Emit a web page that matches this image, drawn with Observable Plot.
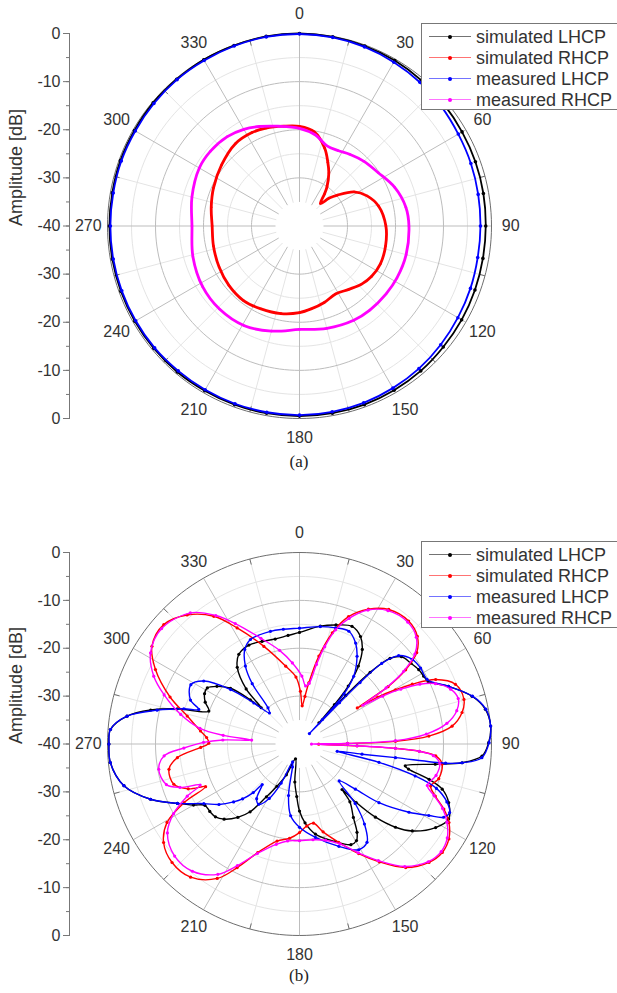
<!DOCTYPE html>
<html>
<head>
<meta charset="utf-8">
<script src="https://cdn.jsdelivr.net/npm/d3@7"></script>
<script src="https://cdn.jsdelivr.net/npm/@observablehq/plot@0.6"></script>
<style>
  html, body { margin: 0; padding: 0; background: #fff; }
  #wrap { position: relative; width: 617px; height: 993px; overflow: hidden; font-family: "Liberation Sans", Arial, sans-serif; }
  .panel { position: absolute; left: 0; }
  .cap { position: absolute; left: 0; width: 598px; text-align: center; font-family: "Liberation Serif", "DejaVu Serif", serif; font-size: 17px; color: #222; }
  .legend { position: absolute; left: 421px; width: 210px; height: 85px; border: 1px solid #777; background: #fff; }
  .legend .row { position: absolute; left: 0; height: 22px; width: 100%; }
  .legend .ln { position: absolute; left: 7px; width: 42px; top: 10px; height: 0; border-top: 1.5px solid; opacity: 0.55; }
  .legend .pt { position: absolute; left: 26px; top: 9px; width: 4px; height: 4px; border-radius: 2px; }
  .legend .tx { position: absolute; left: 54px; top: 0; font-size: 18px; line-height: 22px; color: #333; white-space: nowrap; }
</style>
</head>
<body>
<div id="wrap">
  <div id="pa" class="panel" style="top:0px"></div>
  <div class="cap" style="top:452px"></div>
  <div id="pb" class="panel" style="top:476px"></div>
  <div class="cap" style="top:966px"></div>
  <div id="la" class="legend" style="top:23px"></div>
  <div id="lb" class="legend" style="top:541px"></div>
</div>
<script>
// ---------- labels / categories ----------
const seriesNames = ["simulated LHCP", "simulated RHCP", "measured LHCP", "measured RHCP"];
const seriesColors = ["#000000", "#ff0000", "#0000ff", "#ff00ff"];
const angleTicks = [0, 30, 60, 90, 120, 150, 180, 210, 240, 270, 300, 330];
const minorAngles = [15, 45, 75, 105, 135, 165, 195, 225, 255, 285, 315, 345];
const radialTicks = [-40, -30, -20, -10, 0, 10, 20, 30, 40];
const radialMinorTicks = [-40, -35, -30, -25, -20, -15, -10, -5, 0, 5, 10, 15, 20, 25, 30, 35, 40];
const majorRings = [-30, -20, -10];
const minorRings = [-25, -15, -5];
const captions = ["(a)", "(b)"];
const axisTitle = "Amplitude [dB]";

// ---------- panel (a) data: [angle deg, amplitude dB] ----------
const aSimLHCP = [[0,0],[10,-0.1],[20,-0.2],[30,-0.3],[40,-0.5],[50,-0.7],[60,-0.9],[70,-1.0],[80,-1.1],[90,-1.2],[100,-1.2],[110,-1.1],[120,-1.0],[130,-0.9],[140,-0.7],[150,-0.6],[160,-0.5],[170,-0.5],[180,-0.5],[190,-0.5],[200,-0.5],[210,-0.5],[220,-0.4],[230,-0.4],[240,-0.4],[250,-0.4],[260,-0.4],[270,-0.4],[280,-0.4],[290,-0.3],[300,-0.3],[310,-0.2],[320,-0.2],[330,-0.1],[340,-0.1],[350,0]];
const aSimRHCP = [[0,-19.3],[9,-20.2],[18,-23],[24,-25.5],[29,-27.4],[35,-30],[38,-31.5],[43,-33.6],[47,-31.5],[51,-29.8],[58,-26.6],[66,-24.6],[76,-23],[90,-22],[103,-21.6],[115,-21.4],[125,-21.7],[133,-22.3],[142,-23.3],[152,-24],[162,-23.3],[172,-22.6],[180,-22],[192,-21.4],[205,-21],[217,-20.6],[230,-20.8],[243,-21.2],[257,-21.6],[270,-21.8],[282,-21.2],[294,-20.4],[308,-19.4],[322,-18.3],[333,-18.2],[341,-18.5],[351,-19]];
const aMeasLHCP = [[0,-0.1],[10,-0.2],[20,-0.4],[30,-0.7],[40,-1.0],[50,-1.4],[60,-1.8],[70,-2.0],[80,-2.2],[90,-2.3],[100,-2.3],[110,-2.1],[120,-1.9],[130,-1.6],[140,-1.3],[150,-1.1],[160,-0.9],[170,-0.8],[180,-0.7],[190,-0.7],[200,-0.7],[210,-0.7],[220,-0.7],[230,-0.6],[240,-0.6],[250,-0.6],[260,-0.6],[270,-0.6],[280,-0.6],[290,-0.5],[300,-0.5],[310,-0.4],[320,-0.3],[330,-0.3],[340,-0.2],[350,-0.1]];
const aMeasRHCP = [[0,-19.7],[10,-20.8],[19,-22.4],[27,-22.4],[35,-21.8],[45,-21],[56,-20.2],[68,-18.6],[80,-17.5],[90,-17.2],[105,-17],[118,-17],[128,-17.1],[140,-17.2],[150,-17.4],[165,-18],[180,-18.5],[195,-17.4],[209,-16.3],[224,-16],[238,-16.2],[254,-16.9],[270,-17.6],[285,-16.8],[300,-15.9],[310,-15.8],[321,-16.1],[330,-16.8],[338,-17.7],[348,-18.8]];

// ---------- panel (b) data: [angle deg, amplitude dB] ----------
const bSimLHCP = [[0,-16.7],[10,-15],[17,-14],[24,-13.1],[29.5,-14.2],[33.5,-16.3],[37,-19.6],[40,-24.2],[41.5,-29],[42.5,-34],[43.5,-26],[44.5,-19],[46.5,-14],[49.4,-12],[54,-11.3],[58,-10.7],[61.3,-10.5],[64,-10.2],[68.8,-6.7],[74.5,-2.7],[79.4,-0.6],[84.6,0],[89.6,-0.6],[93.8,-1.9],[96.6,-5.9],[98.5,-11.4],[101.7,-17.5],[103,-16.7],[105.3,-12],[107.6,-8.8],[111.5,-6.6],[116.8,-5.2],[121.6,-6.7],[127.7,-10.3],[131,-13.5],[134,-18],[136,-23],[137,-27],[139,-24],[143.8,-21],[147,-18],[149.5,-16.6],[153,-16.4],[160,-18.3],[170,-20.9],[176,-23.5],[180,-26],[183,-29],[187,-32],[195,-36.8],[203,-33],[208,-30],[212,-27],[216,-22.5],[220,-20],[225,-17.8],[229,-16.8],[233,-16.6],[237,-16.5],[240,-14.5],[244,-11.7],[249.6,-6.9],[256.6,-2.4],[264.4,-0.4],[270,-0.3],[274.4,-0.5],[279.2,-3.6],[282.9,-8.2],[286.1,-13.5],[290,-19.9],[294,-18.5],[298,-17.6],[301.4,-17.5],[305,-19],[309,-21.5],[312,-26.2],[313.5,-29],[316,-24],[321,-19.4],[326,-17.4],[333,-16.8],[340,-17.2],[347,-17.5],[354,-17.2]];
const bSimRHCP = [[1,-29],[4,-32],[6.5,-30],[8.6,-27.1],[12.4,-21.2],[16.4,-15.8],[21,-11.5],[27,-8.4],[33.5,-6.3],[41.5,-5.7],[47.5,-6.7],[52,-9],[55,-13],[57,-18],[58,-25.8],[59,-21],[60.5,-17],[62,-13.4],[64.6,-8.6],[69,-5.2],[74.8,-4.5],[79,-5.5],[83.3,-8],[86.5,-13],[88.4,-20],[89.3,-30],[90.5,-36],[91.8,-28],[92.6,-20],[93.5,-15],[95,-11.5],[98,-10],[104,-10.1],[107.8,-11.3],[111,-9.7],[114.3,-7],[117.8,-4.8],[122.5,-3.1],[127.3,-2.6],[132.5,-3.4],[139.4,-6],[146,-10.3],[151.7,-14],[158.3,-17.9],[165,-21],[170,-23.2],[175,-22.8],[180,-21.5],[186,-20.2],[193,-19.2],[201,-15.7],[206.7,-11.1],[211.4,-7.1],[219.2,-4.1],[227,-3.7],[234,-5],[239.3,-7.9],[243,-13],[245.5,-18.5],[248,-15],[252.2,-12.5],[259,-12.3],[263.6,-14.4],[268,-19.4],[270.5,-21.1],[274,-20.6],[277.5,-19.2],[284,-15.9],[290,-11.3],[297.4,-6.2],[303.6,-3.1],[311.4,-2.3],[319,-4.3],[326.2,-7.9],[331.8,-12.5],[340,-18.3],[350,-23.5],[357,-26]];
const bMeasLHCP = [[0,-15.8],[10,-15.1],[17.2,-14.6],[23.6,-14.3],[29,-15.9],[33.2,-18.1],[38.6,-21.9],[41.5,-26],[43,-33],[43.5,-37],[44,-28],[44.5,-22],[45.5,-16],[48.2,-12.3],[53,-10.6],[57.8,-10.2],[63.1,-10.2],[68.8,-6.7],[74.5,-2.6],[79.4,-0.5],[84.6,0],[89.6,-0.5],[94.3,-1.9],[96.6,-5.9],[97.5,-9.3],[98.1,-19.8],[99.3,-26.8],[101,-32],[103,-23],[105.5,-15],[108,-10],[111.5,-7],[114.6,-5.6],[117,-6.3],[119,-9.2],[122,-13.1],[126.5,-19.4],[129,-25],[133,-28.7],[137,-23],[141,-18.5],[145.6,-15.1],[150.8,-14.7],[159,-17.1],[170.3,-20.2],[180,-22.6],[187,-24.9],[192,-29],[197,-35],[201,-36],[205,-31],[209,-27],[214,-24.8],[218,-25.5],[222.5,-28.5],[223.5,-26],[226,-23.5],[228.6,-21.7],[233,-19],[238,-16.5],[244,-11.7],[249.6,-6.9],[256.6,-2.4],[264.4,-0.4],[270,-0.3],[274.4,-0.5],[279.2,-3.6],[283.4,-9.5],[287,-14.8],[289,-17.8],[292,-15.5],[298.7,-14.2],[303.4,-16.1],[308.4,-21.7],[312,-27.2],[316,-31],[319,-30],[322,-24],[325.3,-20.2],[330,-17.2],[334.9,-15.9],[345.6,-15.7],[352,-15.8]];
const bMeasRHCP = [[2,-25.8],[6,-27.8],[9,-27.2],[12,-23],[14.5,-19],[17.5,-15],[21.5,-11.8],[27,-8.6],[33.5,-6.6],[41.5,-6],[47.5,-7],[52,-9.5],[55,-13.5],[57,-18.5],[58.5,-24.5],[60,-20],[61.5,-16],[63.5,-12],[66,-9],[70,-6.5],[74,-5.6],[78,-6.5],[82,-9],[85.5,-13.5],[88,-20],[89.3,-30],[90.5,-37.5],[91.8,-28],[92.6,-20],[93.5,-15],[95,-12],[98,-10.5],[103,-10.8],[108,-12],[111,-10],[114.3,-7.3],[118,-5.2],[122.5,-3.5],[127.3,-2.9],[132.5,-3.6],[139.4,-6.3],[146,-10.6],[151.7,-14.2],[158,-17.5],[165,-19.2],[172,-19.8],[180,-19.8],[187,-19.6],[193,-18.5],[201,-15.5],[207,-11.5],[212,-7.9],[220,-5.3],[228,-5],[236,-6.8],[241,-10],[245,-14.2],[247.5,-17.6],[250,-13.5],[253,-11],[259.8,-10.2],[265,-11.7],[268,-15.9],[271,-20],[273,-24],[274.7,-30],[276.5,-24],[279,-19],[284,-14.5],[290,-10],[295,-6.5],[301.5,-3.6],[310,-2.5],[320.3,-4.4],[327,-8],[332,-11.5],[340,-16.5],[348,-20],[355,-23]];

// ---------- helpers ----------
const FLOOR = -40;                       // centre of the polar grid
const toXY = (a, db) => {
  const r = Math.max(0, db - FLOOR);
  const t = a * Math.PI / 180;
  return [r * Math.sin(t), r * Math.cos(t)];
};
const ringPts = db => d3.range(0, 361, 2).map(a => { const [x, y] = toXY(a, db); return {x, y}; });
const seriesPts = data => data.map(([a, db]) => { const [x, y] = toXY(a, db); return {x, y}; });

function polarPanel({height, marginTop, marginBottom, series, widths, dotR}) {
  const marks = [];
  // light grid
  for (const db of minorRings) marks.push(Plot.line(ringPts(db), {x: "x", y: "y", stroke: "#e4e4e4", strokeWidth: 1}));
  marks.push(Plot.link(minorAngles, {
    x1: a => toXY(a, -35)[0], y1: a => toXY(a, -35)[1],
    x2: a => toXY(a, 0)[0], y2: a => toXY(a, 0)[1],
    stroke: "#e4e4e4", strokeWidth: 1
  }));
  // major grid
  for (const db of majorRings) marks.push(Plot.line(ringPts(db), {x: "x", y: "y", stroke: "#bdbdbd", strokeWidth: 1}));
  marks.push(Plot.link(angleTicks, {
    x1: a => toXY(a, -35)[0], y1: a => toXY(a, -35)[1],
    x2: a => toXY(a, 0)[0], y2: a => toXY(a, 0)[1],
    stroke: "#bdbdbd", strokeWidth: 1
  }));
  // outer ring + its ticks
  marks.push(Plot.line(ringPts(0), {x: "x", y: "y", stroke: "#6e6e6e", strokeWidth: 1}));
  marks.push(Plot.link(minorAngles, {
    x1: a => toXY(a, -1.2)[0], y1: a => toXY(a, -1.2)[1],
    x2: a => toXY(a, 0)[0], y2: a => toXY(a, 0)[1],
    stroke: "#6e6e6e", strokeWidth: 1
  }));
  // angle labels
  marks.push(Plot.text(angleTicks, {
    x: a => toXY(a, 4)[0], y: a => toXY(a, 4)[1], text: a => String(a),
    fontSize: 16, fill: "#333"
  }));
  // left amplitude axis
  marks.push(Plot.axisY({ticks: radialMinorTicks, tickSize: 3, tickFormat: () => "", stroke: "#777", label: null}));
  marks.push(Plot.axisY({
    ticks: radialTicks, tickSize: 6, tickPadding: 3, fontSize: 16, stroke: "#777", color: "#333",
    tickFormat: d => String(Math.abs(d) + FLOOR), label: null
  }));
  marks.push(Plot.frame({anchor: "left", stroke: "#777"}));
  marks.push(Plot.text([axisTitle], {frameAnchor: "left", text: d => d, rotate: -90, dx: -53, fontSize: 18, fill: "#333"}));
  // data series
  series.forEach((data, i) => {
    const pts = seriesPts(data);
    marks.push(Plot.line(pts, {x: "x", y: "y", stroke: seriesColors[i], strokeWidth: widths[i], curve: "catmull-rom-closed"}));
    marks.push(Plot.dot(pts, {x: "x", y: "y", fill: seriesColors[i], r: dotR[i], stroke: "none"}));
  });
  return Plot.plot({
    width: 617, height, marginLeft: 69, marginRight: 0, marginTop, marginBottom,
    x: {domain: [-40, 40], range: [107, 491], axis: null},
    y: {domain: [-40, 40], axis: null, label: null},
    style: {fontFamily: "'Liberation Sans', Arial, sans-serif", background: "transparent", overflow: "visible"},
    marks
  });
}

document.getElementById("pa").append(polarPanel({
  height: 452, marginTop: 33, marginBottom: 34,
  series: [aSimLHCP, aSimRHCP, aMeasLHCP, aMeasRHCP],
  widths: [1.8, 2.8, 1.8, 2.8],
  dotR: [1.8, 1.2, 1.8, 1.2]
}));
document.getElementById("pb").append(polarPanel({
  height: 490, marginTop: 76, marginBottom: 31,
  series: [bSimLHCP, bSimRHCP, bMeasLHCP, bMeasRHCP],
  widths: [1.4, 1.4, 1.4, 1.4],
  dotR: [1.6, 1.6, 1.6, 1.6]
}));

// legends
for (const id of ["la", "lb"]) {
  const box = document.getElementById(id);
  seriesNames.forEach((name, i) => {
    const row = document.createElement("div");
    row.className = "row";
    row.style.top = (2 + i * 21) + "px";
    row.innerHTML = `<div class="ln" style="border-color:${seriesColors[i]}"></div>` +
      `<div class="pt" style="background:${seriesColors[i]}"></div>` +
      `<div class="tx">${name}</div>`;
    box.append(row);
  });
}
document.querySelectorAll(".cap")[0].textContent = captions[0];
document.querySelectorAll(".cap")[1].textContent = captions[1];
</script>
</body>
</html>
